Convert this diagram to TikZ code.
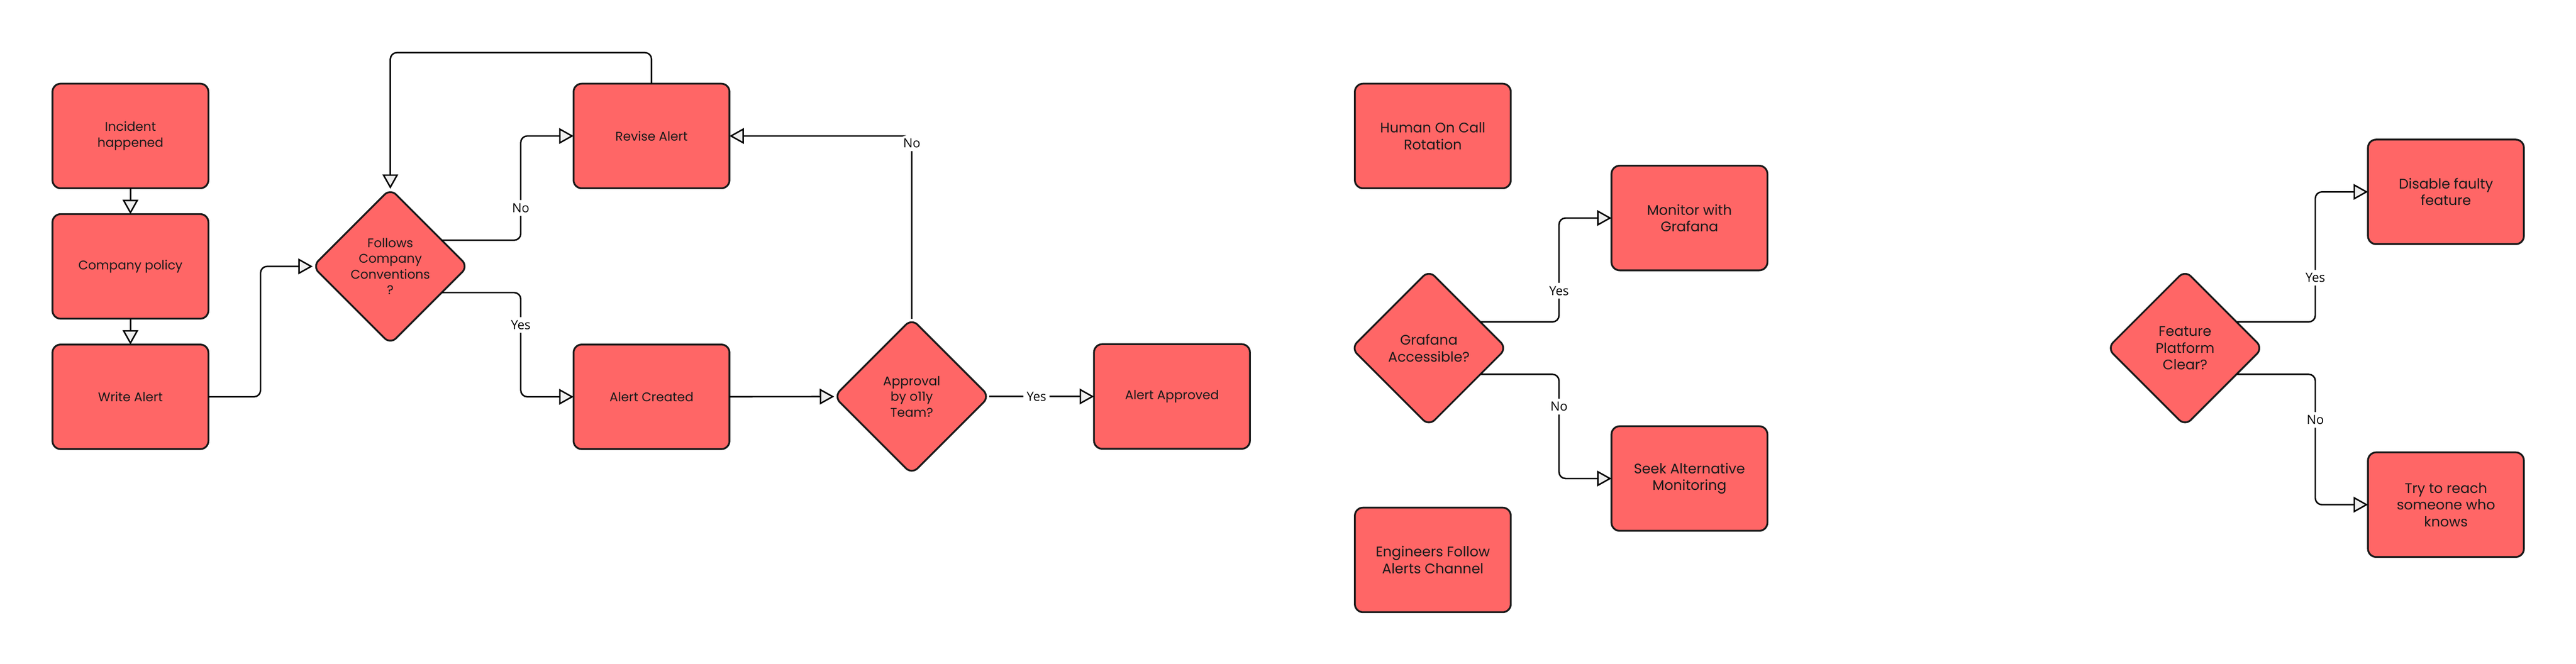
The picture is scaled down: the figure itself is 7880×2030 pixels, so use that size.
\documentclass[tikz,border=0pt]{standalone}
\usepackage{fontspec}
\setmainfont{Poppins}
\newfontfamily\answerfont{Open Sans}
\usetikzlibrary{shapes,arrows.meta,calc}
\definecolor{boxred}{HTML}{FF6666}
\definecolor{boxline}{HTML}{1A1A1A}
\definecolor{tipgray}{HTML}{EFEFEF}
\newcommand{\smalltext}{\fontsize{11pt}{13.7pt}\selectfont}
\newcommand{\bigtext}{\fontsize{12.1pt}{14.6pt}\selectfont}
\tikzstyle{box} = [draw=boxline, fill=boxred, text=boxline, line width=0.55mm,
   rounded corners=2.5mm, minimum width=47.7mm, minimum height=32mm,
   inner sep=0pt, outer sep=0pt, align=center, font=\smalltext]
\tikzstyle{decision} = [box, diamond, minimum width=47.5mm, minimum height=47.5mm]
\tikzstyle{flow} = [draw, line width=0.45mm, rounded corners=2mm,
   -{Triangle[fill=tipgray, length=4.4mm, width=4.8mm]}]
\tikzstyle{answer} = [fill=white, inner sep=1mm,
   font=\answerfont\fontsize{11pt}{13pt}\selectfont]

\begin{document}
\begin{tikzpicture}[x=0.1mm,y=-0.1mm]

\useasboundingbox (0,0) rectangle (7880,2030);
%\draw[help lines] (0,0) grid[step=100] (7880,2030);

% writing and approving an alert
\node[box] (incident) at (399,416) {Incident\\happened};
\node[box] (policy) at (399,815) {Company policy};
\node[box] (write) at (399,1214) {Write Alert};
\node[decision] (follows) at (1194,815) {Follows\\Company\\Conventions\\?};
\node[box] (revise) at (1993,416) {Revise Alert};
\node[box] (created) at (1993,1214) {Alert Created};
\node[decision] (approval) at (2789,1213) {Approval\\by o11y\\Team?};
\node[box] (approved) at (3585,1213) {Alert Approved};

\coordinate (wbend) at ($(write.east)!.5!(follows.west)$);
\coordinate (fbend) at ($(follows.east)!.5!(revise.west)$);

\draw[flow] (incident) -- (policy);
\draw[flow] (policy) -- (write);
\draw[flow] (write.east) -| (wbend) |- (follows.west);
\draw[flow] (follows.27) -- (follows.27 -| fbend)
   -- node[answer, pos=0.31] {No} (revise.west -| fbend) -- (revise.west);
\draw[flow] (follows.-27) -- (follows.-27 -| fbend)
   -- node[answer, pos=0.31] {Yes} (created.west -| fbend) -- (created.west);
\draw[flow] (revise.north) -- ++(0,-95) -| (follows.north);
\draw[flow] (created) -- (approval);
\draw[flow] (approval.north) |- node[answer, pos=0.48] {No} (revise.east);
\draw[flow] (approval.east) -- node[answer, pos=0.45] {Yes} (approved.west);

% grafana
\node[box, font=\bigtext] (human) at (4383,416) {Human On Call\\Rotation};
\node[decision, font=\bigtext] (grafana) at (4371,1065) {Grafana\\Accessible?};
\node[box, font=\bigtext] (monitor) at (5168,667) {Monitor with\\Grafana};
\node[box, font=\bigtext] (seek) at (5168,1464) {Seek Alternative\\Monitoring};
\node[box, font=\bigtext] (engineers) at (4383,1713) {Engineers Follow\\Alerts Channel};

\coordinate (gbend) at ($(grafana.east)!.5!(monitor.west |- grafana.east)$);

\draw[flow] (grafana.27) -- (grafana.27 -| gbend)
   -- node[answer, pos=0.30] {Yes} (monitor.west -| gbend) -- (monitor.west);
\draw[flow] (grafana.-27) -- (grafana.-27 -| gbend)
   -- node[answer, pos=0.31] {No} (seek.west -| gbend) -- (seek.west);

% feature platform
\node[decision, font=\bigtext] (feature) at (6684,1065) {Feature\\Platform\\Clear?};
\node[box, font=\bigtext] (disable) at (7482,587) {Disable faulty\\feature};
\node[box, font=\bigtext] (reach) at (7482,1544) {Try to reach\\someone who\\knows};

\coordinate (pbend) at ($(feature.east)!.5!(disable.west |- feature.east)$);

\draw[flow] (feature.27) -- (feature.27 -| pbend)
   -- node[answer, pos=0.34] {Yes} (disable.west -| pbend) -- (disable.west);
\draw[flow] (feature.-27) -- (feature.-27 -| pbend)
   -- node[answer, pos=0.35] {No} (reach.west -| pbend) -- (reach.west);

\end{tikzpicture}
\end{document}
